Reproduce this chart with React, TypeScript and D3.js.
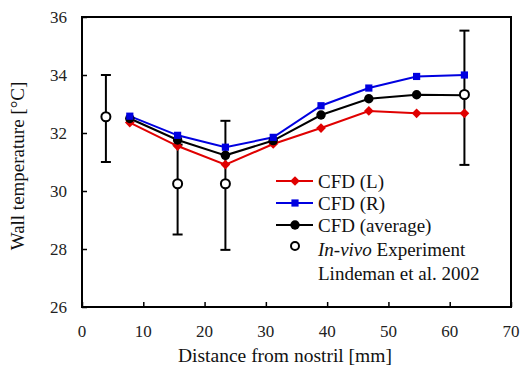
import React, { useEffect, useRef } from 'react';
import * as d3 from 'd3';

const cfdX = [7.8, 15.6, 23.4, 31.2, 39.0, 46.8, 54.6, 62.4];
const cfdL = [32.36, 31.55, 30.91, 31.62, 32.17, 32.76, 32.68, 32.68];
const cfdR = [32.58, 31.92, 31.51, 31.85, 32.94, 33.55, 33.95, 34.0];
const cfdAvg = [32.5, 31.76, 31.23, 31.74, 32.62, 33.18, 33.32, 33.3];

const expX = [3.9, 15.6, 23.4, 62.4];
const expY = [32.56, 30.25, 30.25, 33.33];
const expLo = [31.0, 28.5, 27.97, 30.9];
const expHi = [34.0, 31.6, 32.42, 35.53];

const xTicks = [0, 10, 20, 30, 40, 50, 60, 70];
const yTicks = [26, 28, 30, 32, 34, 36];

const FONT = "'Liberation Serif', 'Times New Roman', Times, serif";

export default function App() {
  const ref = useRef<SVGSVGElement>(null);

  useEffect(() => {
    if (!ref.current) return;
    const svg = d3.select(ref.current);
    svg.selectAll('*').remove();
    const margin = { top: 17, right: 10, bottom: 63, left: 82 };
    const width = 521, height = 370;
    const iw = width - margin.left - margin.right;
    const ih = height - margin.top - margin.bottom;

    const x = d3.scaleLinear().domain([0, 70]).range([0, iw]);
    const y = d3.scaleLinear().domain([26, 36]).range([ih, 0]);
    const g = svg.append('g').attr('transform', `translate(${margin.left},${margin.top})`);

    // frame
    g.append('rect').attr('width', iw).attr('height', ih)
      .attr('fill', 'none').attr('stroke', '#000').attr('stroke-width', 2);

    // inward tick marks from the axes, labels drawn separately in serif
    const xa = g.append('g').attr('transform', `translate(0,${ih})`)
      .call(d3.axisBottom(x).tickValues(xTicks).tickSizeInner(-5).tickSizeOuter(0).tickFormat(() => ''));
    const ya = g.append('g')
      .call(d3.axisLeft(y).tickValues(yTicks).tickSizeInner(-5).tickSizeOuter(0).tickFormat(() => ''));
    [xa, ya].forEach(a => {
      a.select('.domain').remove();
      a.selectAll('line').attr('stroke', '#000').attr('stroke-width', 1.5);
    });
    g.selectAll(null).data(xTicks).enter().append('text')
      .attr('x', d => x(d)).attr('y', ih + 30).attr('text-anchor', 'middle')
      .attr('font-family', FONT).attr('font-size', 17).attr('fill', '#222').text(d => d);
    g.selectAll(null).data(yTicks).enter().append('text')
      .attr('x', -15).attr('y', d => y(d)).attr('dy', '0.35em').attr('text-anchor', 'end')
      .attr('font-family', FONT).attr('font-size', 17).attr('fill', '#222').text(d => d);

    // error bars
    const cap = 5;
    expX.forEach((xv, i) => {
      const eg = g.append('g').attr('stroke', '#000').attr('stroke-width', 2);
      eg.append('line').attr('x1', x(xv)).attr('x2', x(xv)).attr('y1', y(expLo[i])).attr('y2', y(expHi[i]));
      eg.append('line').attr('x1', x(xv) - cap).attr('x2', x(xv) + cap).attr('y1', y(expLo[i])).attr('y2', y(expLo[i]));
      eg.append('line').attr('x1', x(xv) - cap).attr('x2', x(xv) + cap).attr('y1', y(expHi[i])).attr('y2', y(expHi[i]));
    });

    const line = d3.line<number>().x((_, i) => x(cfdX[i])).y(d => y(d));
    const series = [
      { vals: cfdL, color: '#e00000', sym: d3.symbolDiamond2, size: 60 },
      { vals: cfdAvg, color: '#000', sym: d3.symbolCircle, size: 70 },
      { vals: cfdR, color: '#0000e0', sym: d3.symbolSquare2, size: 66 },
    ];
    series.forEach(s => {
      g.append('path').attr('d', line(s.vals)).attr('fill', 'none')
        .attr('stroke', s.color).attr('stroke-width', 2);
    });
    series.forEach(s => {
      g.selectAll(null).data(s.vals).enter().append('path')
        .attr('transform', (d, i) => `translate(${x(cfdX[i])},${y(d)})`)
        .attr('d', d3.symbol(s.sym, s.size)())
        .attr('fill', s.color);
    });

    // experiment circles
    g.selectAll(null).data(expY).enter().append('circle')
      .attr('cx', (_, i) => x(expX[i])).attr('cy', d => y(d)).attr('r', 4.5)
      .attr('fill', '#fff').attr('stroke', '#000').attr('stroke-width', 2);

    // legend
    const lg = svg.append('g').attr('font-family', FONT).attr('font-size', 19).attr('fill', '#111');
    const leg = [
      { label: 'CFD (L)', color: '#e00000', sym: d3.symbolDiamond2, size: 60, yy: 181 },
      { label: 'CFD (R)', color: '#0000e0', sym: d3.symbolSquare2, size: 66, yy: 203 },
      { label: 'CFD (average)', color: '#000', sym: d3.symbolCircle, size: 70, yy: 225 },
    ];
    leg.forEach(l => {
      lg.append('line').attr('x1', 276).attr('x2', 313).attr('y1', l.yy).attr('y2', l.yy)
        .attr('stroke', l.color).attr('stroke-width', 2);
      lg.append('path').attr('transform', `translate(295,${l.yy})`)
        .attr('d', d3.symbol(l.sym, l.size)()).attr('fill', l.color);
      lg.append('text').attr('x', 318).attr('y', l.yy).attr('dy', '0.35em').text(l.label);
    });
    lg.append('circle').attr('cx', 295).attr('cy', 246).attr('r', 4)
      .attr('fill', '#fff').attr('stroke', '#000').attr('stroke-width', 2);
    const t = lg.append('text').attr('x', 318).attr('y', 249).attr('dy', '0.35em');
    t.append('tspan').attr('font-style', 'italic').text('In-vivo');
    t.append('tspan').text(' Experiment');
    lg.append('text').attr('x', 318).attr('y', 273).attr('dy', '0.35em').text('Lindeman et al. 2002');

    // axis titles
    svg.append('text').attr('x', 285).attr('y', 362)
      .attr('text-anchor', 'middle').attr('font-family', FONT).attr('font-size', 19.5).attr('fill', '#111')
      .text('Distance from nostril [mm]');
    svg.append('text').attr('transform', `translate(24,166) rotate(-90)`)
      .attr('text-anchor', 'middle').attr('font-family', FONT).attr('font-size', 19).attr('fill', '#111')
      .text('Wall temperature [°C]');
  }, []);

  return (
    <svg ref={ref} width={521} height={370}
      style={{ position: 'absolute', left: 0, top: 0, background: '#fff' }} />
  );
}
